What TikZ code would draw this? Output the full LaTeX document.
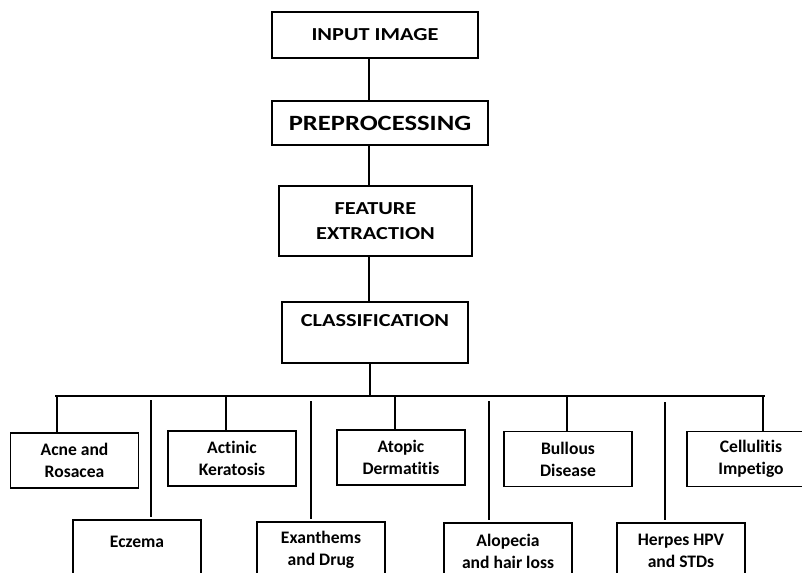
\documentclass[tikz,border=0pt]{standalone}
\usepackage{fontspec}
\setmainfont{Carlito}[Ligatures=NoCommon]
\newfontfamily\headfont{Carlito}[Ligatures=NoCommon, FakeStretch=1.22]
\usetikzlibrary{positioning}

\begin{document}
\begin{tikzpicture}[x=0.025cm, y=-0.025cm,
      stage/.style={draw, line width=0.8pt, align=center, inner sep=0pt,
                    font=\headfont\fontsize{13}{17.5}\selectfont\bfseries},
      leaf/.style={draw, line width=0.8pt, align=center, inner sep=0pt,
                   minimum width=3.2cm, minimum height=1.375cm,
                   font=\fontsize{12.5}{15.5}\selectfont\bfseries},
      link/.style={line width=2pt}]
    \clip (0,0) rectangle (802,572);
    % pipeline
    \node[stage, minimum width=5.15cm, minimum height=1.15cm]   (input) at (375,35) {INPUT IMAGE};
    \node[stage, minimum width=5.4cm, minimum height=1.1cm,
          font=\headfont\fontsize{15.5}{17.5}\selectfont\bfseries] (pre) at (380,123) {PREPROCESSING};
    \node[stage, minimum width=4.825cm, minimum height=1.75cm]  (feat)  at (375.5,221) {FEATURE\\EXTRACTION};
    \node[stage, minimum width=4.65cm, minimum height=1.525cm]  (class) at (375,332.5) {CLASSIFICATION\\\mbox{}};
    \coordinate (spine) at (369,0);
    \draw[link] (input.south -| spine) -- (pre.north -| spine);
    \draw[link] (pre.south -| spine)   -- (feat.north -| spine);
    \draw[link] (feat.south -| spine)  -- (class.north -| spine);
    % diseases, upper row
    \node[leaf] (acne)    at (74.5,460.5) {Acne and\\Rosacea};
    \node[leaf] (actinic) at (232,458.5)  {Actinic\\Keratosis};
    \node[leaf] (atopic)  at (401,457.5)  {Atopic\\Dermatitis};
    \node[leaf] (bullous) at (568,459)    {Bullous\\Disease};
    \node[leaf] (cell)    at (751,459)    {Cellulitis\\Impetigo};
    % diseases, lower row
    \node[leaf, minimum height=1.4cm] (eczema) at (137,548)   {Eczema\\[-6pt]\mbox{}};
    \node[leaf, minimum height=1.4cm] (exan)   at (321,550)   {Exanthems\\and Drug};
    \node[leaf, minimum height=1.4cm] (alop)   at (508,551)   {Alopecia\\and hair loss};
    \node[leaf, minimum height=1.4cm] (herpes) at (681,551)   {Herpes HPV\\and STDs};
    % tree
    \coordinate (hub) at (370,396);
    \coordinate (barL) at (55,396);
    \coordinate (barR) at (764.5,396);
    \draw[link] (class.south -| hub) -- (hub);
    \draw[link] (barL) -- (barR);
    \coordinate (b1) at (57,396);
    \coordinate (b2) at (226,396);
    \coordinate (b3) at (395,396);
    \coordinate (b4) at (567,396);
    \coordinate (b5) at (763,396);
    \draw[link] (b1) -- (b1 |- acne.north);
    \draw[link] (b2) -- (b2 |- actinic.north);
    \draw[link] (b3) -- (b3 |- atopic.north);
    \draw[link] (b4) -- (b4 |- bullous.north);
    \draw[link] (b5) -- (b5 |- cell.north);
    \coordinate (c1) at (151,400);
    \coordinate (c2) at (311,401);
    \coordinate (c3) at (489,401);
    \coordinate (c4) at (665,402);
    \draw[link] (c1) -- ([yshift=2pt]c1 |- eczema.north);
    \draw[link] (c2) -- ([yshift=2pt]c2 |- exan.north);
    \draw[link] (c3) -- ([yshift=2pt]c3 |- alop.north);
    \draw[link] (c4) -- ([yshift=2pt]c4 |- herpes.north);
  \end{tikzpicture}
\end{document}
